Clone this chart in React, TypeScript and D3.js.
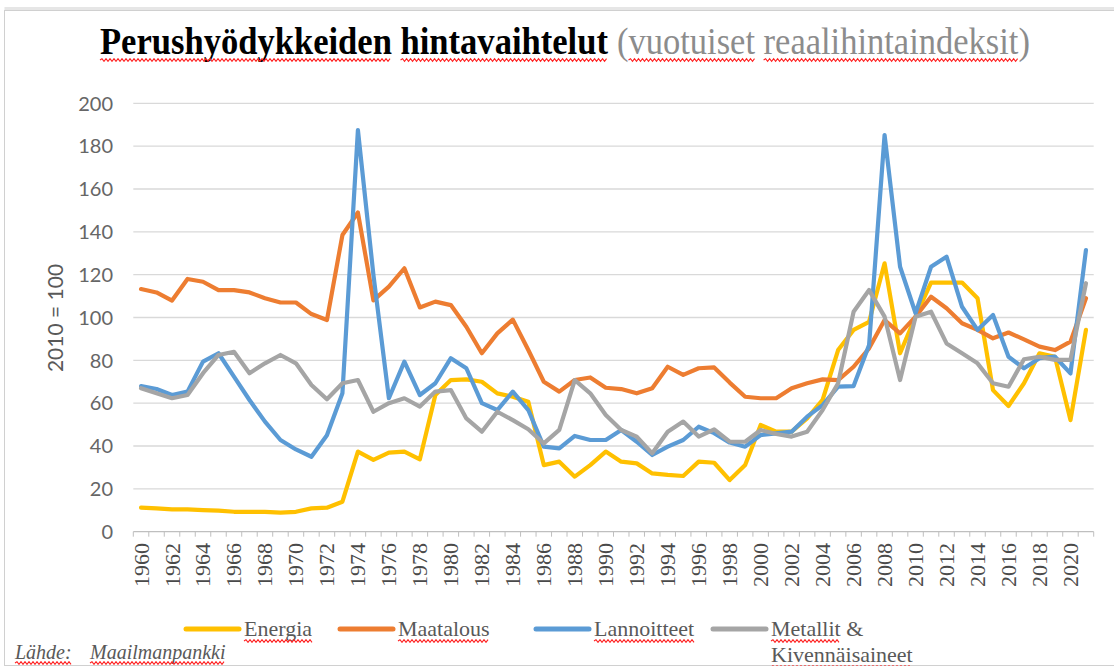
import React, { useEffect, useRef } from 'react'
import * as d3 from 'd3'

// vuodet 1960–2021
const years: number[] = d3.range(1960, 2022)
const yTicks: number[] = [0, 20, 40, 60, 80, 100, 120, 140, 160, 180, 200]
const xTickYears: number[] = years.filter((y) => y % 2 === 0)

const energia = [
  11.2, 10.9, 10.4, 10.4, 10.1, 9.8, 9.3, 9.3, 9.3, 8.9,
  9.3, 10.9, 11.2, 14, 37.4, 33.5, 36.9, 37.4, 33.8, 63.8,
  70.8, 71.1, 70, 64.6, 63, 60.7, 31.1, 32.7, 25.7, 31.1,
  37.4, 32.7, 31.9, 27.2, 26.5, 26, 32.7, 32.2, 24.1, 31.1,
  49.8, 46.7, 46.7, 52.9, 61.5, 84.8, 94.2, 98, 125.3, 83.3,
  100.4, 116.3, 116.3, 116.3, 109, 66.1, 58.7, 69.3, 83.3, 81.7,
  52.1, 94.2,
]
const maatalous = [
  113.3, 111.7, 107.9, 118, 116.7, 112.8, 112.8, 111.7, 109, 107,
  107, 101.6, 98.8, 138.5, 149, 108, 114.4, 123, 104.7, 107.4,
  105.8, 95.7, 83.3, 92.6, 99, 84.8, 70, 65.4, 70.8, 72,
  67.2, 66.6, 64.6, 67, 77, 73.2, 76.3, 76.7, 69.6, 63,
  62.3, 62.3, 67, 69.3, 71.1, 70.8, 77, 85.6, 98.8, 92.6,
  100.4, 109.7, 104.3, 97.3, 94.2, 90.3, 93, 89.8, 86.4, 84.8,
  88.7, 109,
]
const lannoitteet = [
  68, 66.6, 63.8, 65.4, 79.4, 83.3, 72.4, 61.5, 51.4, 42.8,
  38.4, 35, 45, 64.6, 187.5, 120, 62.3, 79.4, 63.8, 69.3,
  81, 76.3, 60, 56.8, 65.4, 56.8, 39.7, 38.9, 44.7, 42.8,
  42.8, 47.5, 42, 35.8, 39.7, 42.8, 49, 46, 41.6, 39.7,
  45.1, 45.9, 46.7, 53.7, 59.1, 67.7, 68, 87.2, 185.2, 123.7,
  102, 123.7, 128.4, 105, 94.2, 101.2, 81.7, 76.3, 81, 81.7,
  73.9, 131.5,
]
const metallit = [
  67, 64.6, 62.3, 63.8, 74, 82.5, 84, 74, 78.6, 82.5,
  78.6, 68.5, 61.8, 69.3, 70.8, 56, 60, 62.3, 58.4, 65.4,
  66.1, 52.9, 46.7, 56, 52.1, 47.8, 41.2, 47.5, 70.8, 64.6,
  54.5, 47.5, 44.4, 36.6, 46.7, 51.4, 44.4, 47.8, 42, 42,
  47.5, 45.6, 44.4, 46.7, 56.8, 69.3, 102.7, 112.8, 100.4, 70.8,
  100.4, 102.7, 87.9, 83.3, 78.6, 69.3, 67.7, 80.5, 81.7, 80.2,
  80.2, 116,
]

const seriesNames = ['Energia', 'Maatalous', 'Lannoitteet', 'Metallit &']
const seriesColors = ['#FFC000', '#ED7D31', '#5B9BD5', '#A5A5A5']
const seriesValues = [energia, maatalous, lannoitteet, metallit]

const W = 1114
const H = 666
const serif = '"Liberation Serif", "Times New Roman", serif'
const sans = 'Lato, "Open Sans", sans-serif'

// punainen aaltoviiva (oikoluku)
function wavy(x0: number, x1: number, y: number) {
  let d = `M${x0},${y}`
  let up = true
  for (let x = x0 + 2; x <= x1; x += 2) {
    d += `L${x},${y + (up ? -1.3 : 1.3)}`
    up = !up
  }
  return d
}

function underlineWords(g: any, textSel: any, str: string, words: string[], x: number, y: number, sx = 1) {
  const node = textSel.node() as SVGTextElement
  words.forEach((w) => {
    const idx = str.indexOf(w)
    if (idx < 0) return
    const off = (idx > 0 ? node.getSubStringLength(0, idx) : 0) * sx
    const wid = node.getSubStringLength(idx, w.length) * sx
    g.append('path')
      .attr('d', wavy(x + off, x + off + wid, y))
      .attr('fill', 'none')
      .attr('stroke', '#ff2020')
      .attr('stroke-width', 1.1)
  })
}

function Chart() {
  const ref = useRef<SVGSVGElement>(null)

  useEffect(() => {
    const svg = d3.select(ref.current)
    svg.selectAll('*').remove()

    // kehys
    svg.append('rect').attr('x', 4.5).attr('y', 7).attr('width', W + 10).attr('height', 4)
      .attr('fill', '#e6e6e6')
    svg.append('rect').attr('x', 4.5).attr('y', 10.5).attr('width', W + 10).attr('height', H - 11)
      .attr('fill', '#fff').attr('stroke', '#d0d0d0')

    const band = d3.scaleBand<number>().domain(years).range([133.3, 1093.7])
    const x = (yr: number) => (band(yr) as number) + band.bandwidth() / 2
    const y = d3.scaleLinear().domain([0, 200]).range([531.7, 103.3])

    // otsikko: kapeampi ja korkeampi kirjasin, sovitetaan leveyteen
    const tg = svg.append('g')
    const titleParts = [
      { str: 'Perushyödykkeiden hintavaihtelut', x0: 100, x1: 608, bold: true, fill: '#000',
        words: ['Perushyödykkeiden', 'hintavaihtelut'] },
      { str: '(vuotuiset reaalihintaindeksit)', x0: 617, x1: 1030, bold: false, fill: '#8c8c8c',
        words: ['vuotuiset', 'reaalihintaindeksit'] },
    ]
    titleParts.forEach((p) => {
      const grp = tg.append('g')
      const ts = grp.append('text').attr('x', 0).attr('y', 0)
        .attr('font-family', serif).attr('font-weight', p.bold ? 'bold' : 'normal')
        .attr('font-size', 37).attr('fill', p.fill).text(p.str)
      const nat = (ts.node() as SVGTextElement).getComputedTextLength()
      const sx = (p.x1 - p.x0) / nat
      grp.attr('transform', `translate(${p.x0},54) scale(${sx},1)`)
      underlineWords(tg, ts, p.str, p.words, p.x0, 60, sx)
    })

    // ruudukko
    svg.append('g').selectAll('line').data(yTicks.filter((v) => v > 0)).join('line')
      .attr('x1', 133.3).attr('x2', 1093.7)
      .attr('y1', (d) => y(d)).attr('y2', (d) => y(d))
      .attr('stroke', '#d9d9d9').attr('stroke-width', 1.3)

    svg.append('g').selectAll('text').data(yTicks).join('text')
      .attr('x', 113).attr('y', (d) => y(d)).attr('dy', '0.36em')
      .attr('text-anchor', 'end').attr('font-family', sans).attr('font-size', 20)
      .attr('fill', '#666').text((d) => d)

    svg.append('text')
      .attr('transform', 'translate(55,318) rotate(-90)')
      .attr('text-anchor', 'middle').attr('dy', '0.36em')
      .attr('font-family', sans).attr('font-size', 21).attr('fill', '#595959')
      .text('2010 = 100')

    // x-akseli
    const ax = svg.append('g')
    ax.append('line').attr('x1', 133.3).attr('x2', 1093.7)
      .attr('y1', y(0)).attr('y2', y(0)).attr('stroke', '#bfbfbf').attr('stroke-width', 1.3)
    const edges = years.map((yr) => band(yr) as number).concat([1093.7])
    ax.selectAll('line.tick').data(edges).join('line').attr('class', 'tick')
      .attr('x1', (d) => d).attr('x2', (d) => d)
      .attr('y1', y(0)).attr('y2', y(0) + 5)
      .attr('stroke', '#bfbfbf').attr('stroke-width', 1)
    ax.selectAll('text').data(xTickYears).join('text')
      .attr('transform', (d) => `translate(${x(d)},543) rotate(-90)`)
      .attr('text-anchor', 'end').attr('dy', '0.34em')
      .attr('font-family', serif).attr('font-size', 22).attr('fill', '#4a4a4a')
      .text((d) => d)

    // sarjat
    const line = d3.line<number>()
      .x((_, i) => x(years[i]))
      .y((d) => y(d))
    svg.append('g').selectAll('path').data(seriesValues).join('path')
      .attr('d', (d) => line(d))
      .attr('fill', 'none')
      .attr('stroke', (_, i) => seriesColors[i])
      .attr('stroke-width', 4.2)
      .attr('stroke-linejoin', 'round')
      .attr('stroke-linecap', 'round')

    // selite
    const legendX = [186, 340, 536, 713]
    const lg = svg.append('g')
    seriesNames.forEach((name, i) => {
      lg.append('line')
        .attr('x1', legendX[i]).attr('x2', legendX[i] + 53)
        .attr('y1', 629).attr('y2', 629)
        .attr('stroke', seriesColors[i]).attr('stroke-width', 5)
        .attr('stroke-linecap', 'round')
      const tx = legendX[i] + 58
      const ts = lg.append('text').attr('x', tx).attr('y', 636)
        .attr('font-family', serif).attr('font-size', 22).attr('fill', '#595959')
        .text(name)
      underlineWords(lg, ts, name, [name.replace(' &', '')], tx, 641)
    })
    const k = 'Kivennäisaineet'
    const ks = lg.append('text').attr('x', legendX[3] + 58).attr('y', 662)
      .attr('font-family', serif).attr('font-size', 22).attr('fill', '#595959').text(k)
    underlineWords(lg, ks, k, [k], legendX[3] + 58, 667)

    // lähde
    const s1 = lg.append('text').attr('x', 15).attr('y', 659)
      .attr('font-family', serif).attr('font-style', 'italic').attr('font-size', 20)
      .attr('fill', '#595959').text('Lähde:')
    underlineWords(lg, s1, 'Lähde:', ['Lähde:'], 15, 663)
    const s2 = lg.append('text').attr('x', 90).attr('y', 659)
      .attr('font-family', serif).attr('font-style', 'italic').attr('font-size', 20)
      .attr('fill', '#595959').text('Maailmanpankki')
    underlineWords(lg, s2, 'Maailmanpankki', ['Maailmanpankki'], 90, 663)
  }, [])

  return <svg ref={ref} width={W} height={H} style={{ display: 'block' }} />
}

export default function App() {
  return (
    <div style={{ position: 'absolute', left: 0, top: 0, width: W, height: H, background: '#fff' }}>
      <Chart />
    </div>
  )
}
